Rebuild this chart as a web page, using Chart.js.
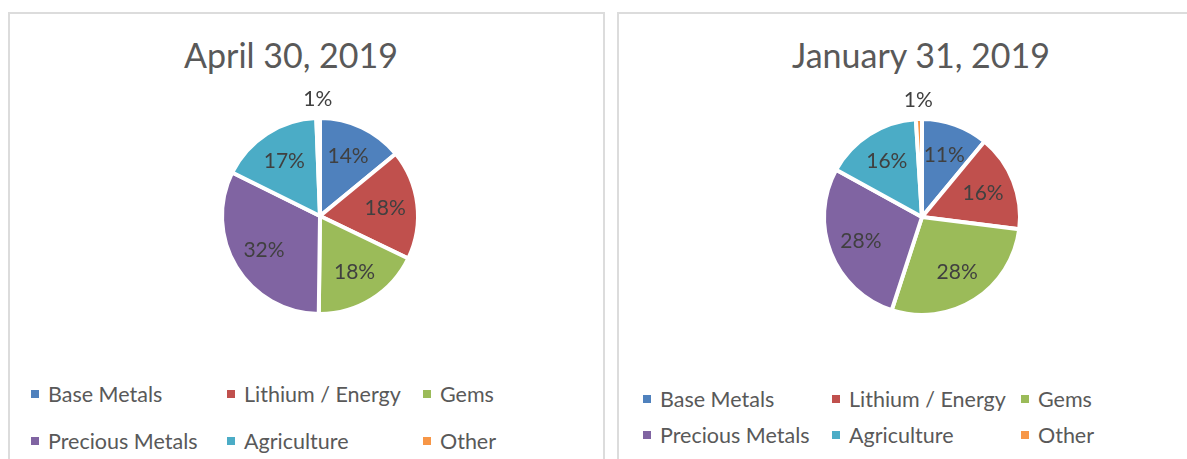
<!DOCTYPE html>
<html>
<head>
<meta charset="utf-8">
<script src="https://cdn.jsdelivr.net/npm/chart.js@4/dist/chart.umd.min.js"></script>
<style>
  body { margin: 0; background: #fff; width: 1187px; height: 459px; overflow: hidden; position: relative; font-family: Lato, sans-serif; }
  .panel { position: absolute; top: 12px; height: 470px; border: 2px solid #dcdcdc; box-sizing: border-box; }
  .title { position: absolute; top: 35px; height: 40px; line-height: 40px; font-size: 34px; color: #595959; white-space: nowrap; transform: translateX(-50%); }
  .pie { position: absolute; }
  .item { position: absolute; height: 24px; line-height: 24px; display: flex; align-items: center; font-size: 21.5px; color: #595959; white-space: nowrap; }
  .item span.sq { width: 8px; height: 8px; margin-right: 9px; display: inline-block; }
</style>
</head>
<body>
<div class="panel" style="left:8px; width:597px;"></div>
<div class="panel" style="left:617px; width:600px;"></div>

<div class="title" style="left:291px;">April 30, 2019</div>
<div class="title" style="left:921px;">January 31, 2019</div>

<canvas id="pie-april" class="pie" width="300" height="300" style="left:170px; top:66px;"></canvas>
<canvas id="pie-january" class="pie" width="300" height="300" style="left:772px; top:67px;"></canvas>

<div id="legend-april"></div>
<div id="legend-january"></div>

<script>
// data (percent of portfolio)
const categories = ['Base Metals', 'Lithium / Energy', 'Gems', 'Precious Metals', 'Agriculture', 'Other'];
const april2019 = [14, 18, 18, 32, 17, 0.6];
const january2019 = [11, 16, 28, 28, 16, 1];

const colors = ['#4f81bd', '#c0504d', '#9bbb59', '#8064a2', '#4bacc6', '#f79646'];

// percent labels inside slices, tiny ones outside
const sliceLabels = {
  id: 'sliceLabels',
  afterDatasetsDraw(chart) {
    const ctx = chart.ctx;
    const meta = chart.getDatasetMeta(0);
    const values = chart.data.datasets[0].data;
    const total = values.reduce((a, b) => a + b, 0);
    ctx.save();
    ctx.font = '21px Lato';
    ctx.fillStyle = '#404040';
    ctx.textAlign = 'center';
    ctx.textBaseline = 'middle';
    meta.data.forEach((arc, i) => {
      const pct = values[i] / total * 100;
      const mid = (arc.startAngle + arc.endAngle) / 2;
      var dist = arc.outerRadius * 0.67;
      if (pct < 3) dist = arc.outerRadius + 19;
      const x = arc.x + Math.cos(mid) * dist;
      const y = arc.y + Math.sin(mid) * dist;
      ctx.fillText(Math.round(pct) + '%', x, y);
    });
    ctx.restore();
  }
};

function makePie(id, values) {
  return new Chart(document.getElementById(id), {
    type: 'pie',
    data: {
      labels: categories,
      datasets: [{
        data: values,
        backgroundColor: colors,
        borderColor: '#ffffff',
        borderWidth: 4
      }]
    },
    options: {
      responsive: false,
      animation: false,
      radius: 98,
      plugins: {
        legend: { display: false },
        tooltip: { enabled: false }
      }
    },
    plugins: [sliceLabels]
  });
}

makePie('pie-april', april2019);
makePie('pie-january', january2019);

// legend grid, 3 columns x 2 rows
function makeLegend(id, colX, rowY) {
  const box = document.getElementById(id);
  categories.forEach((name, i) => {
    const div = document.createElement('div');
    div.className = 'item';
    div.style.left = colX[i % 3] + 'px';
    div.style.top = (rowY[Math.floor(i / 3)] - 12) + 'px';
    const sq = document.createElement('span');
    sq.className = 'sq';
    sq.style.background = colors[i];
    div.appendChild(sq);
    div.appendChild(document.createTextNode(name));
    box.appendChild(div);
  });
}

makeLegend('legend-april', [31, 227, 423], [394, 441]);
makeLegend('legend-january', [643, 832, 1021], [399, 435]);
</script>
</body>
</html>
